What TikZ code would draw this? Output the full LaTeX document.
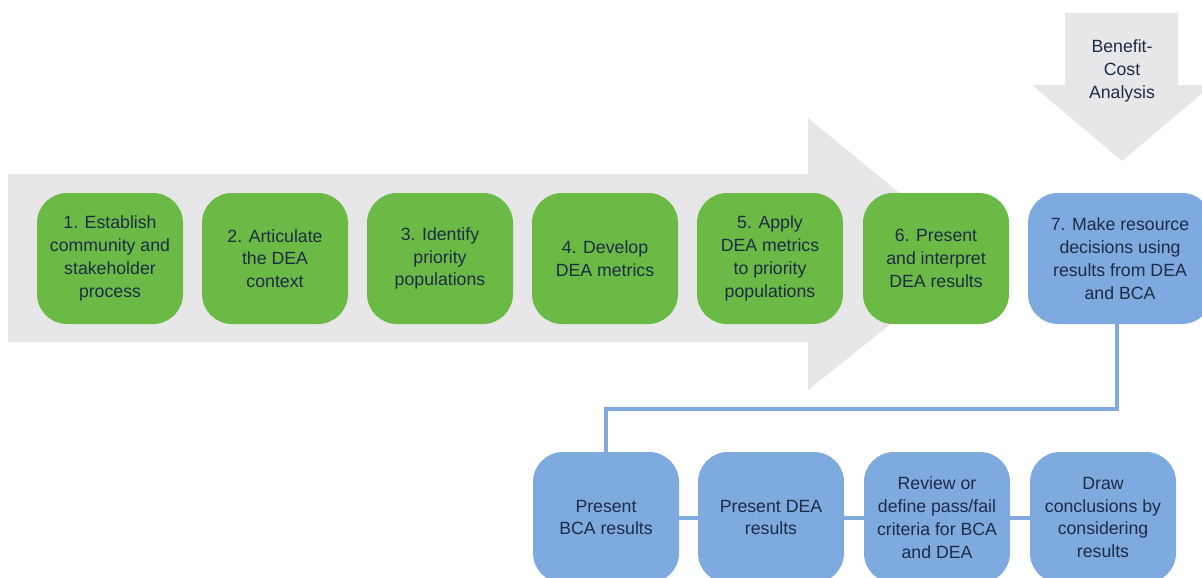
\documentclass[tikz,border=0pt]{standalone}
\usepackage{fontspec}
\setmainfont{Liberation Sans}
\definecolor{stepgreen}{HTML}{6BBA45}
\definecolor{stepblue}{HTML}{7EAADF}
\definecolor{flowgray}{HTML}{E7E7E9}
\definecolor{inktext}{HTML}{1E2B45}
\tikzset{
  stepbox/.style={rectangle, rounded corners=30pt, minimum width=146pt,
    minimum height=131pt, inner sep=0pt, align=center, text=inktext,
    font=\fontsize{17.7pt}{22.8pt}\selectfont},
  greenbox/.style={stepbox, fill=stepgreen},
  bluebox/.style={stepbox, fill=stepblue},
  link/.style={draw=stepblue, line width=4pt},
  arrowfill/.style={fill=flowgray, draw=none}
}
\begin{document}
\begin{tikzpicture}[x=1pt,y=-1pt]
\useasboundingbox (0,0) rectangle (1202,578);
\clip (0,0) rectangle (1202,578);
\fill[white] (0,0) rectangle (1202,578);

% main process arrow behind the first six steps
\path[arrowfill] (8,174) -- (808,174) -- (808,118) -- (976,256)
  -- (808,390) -- (808,342) -- (8,342) -- cycle;

% incoming benefit-cost arrow
\path[arrowfill] (1065,13) -- (1178,13) -- (1178,85) -- (1212,85)
  -- (1122,161) -- (1032,85) -- (1065,85) -- cycle;
\node[text=inktext, align=center, font=\fontsize{17.7pt}{22.8pt}\selectfont]
  (bca) at (1122,71) {Benefit-\\Cost\\Analysis};

% steps 1-6
\node[greenbox] (s1) at (110,258.5) {1. Establish\\community and\\stakeholder\\process};
\node[greenbox] (s2) at (275,258.5) {2. Articulate\\the DEA\\context};
\node[greenbox] (s3) at (440,258.5) {3. Identify\\priority\\populations};
\node[greenbox] (s4) at (605,258.5) {4. Develop\\DEA metrics};
\node[greenbox] (s5) at (770,258.5) {5. Apply\\DEA metrics\\to priority\\populations};
\node[greenbox] (s6) at (936,258.5) {6. Present\\and interpret\\DEA results};

% step 7
\node[bluebox, minimum width=184pt] (s7) at (1120,258.5)
  {7. Make resource\\decisions using\\results from DEA\\and BCA};

% decision sub-steps
\node[bluebox] (p1) at (606,517.5) {Present\\BCA results};
\node[bluebox] (p2) at (771,517.5) {Present DEA\\results};
\node[bluebox] (p3) at (937,517.5) {Review or\\define pass/fail\\criteria for BCA\\and DEA};
\node[bluebox] (p4) at (1103,517.5) {Draw\\conclusions by\\considering\\results};

% connectors
\draw[link] ([xshift=-3pt]s7.south) -- ([xshift=-3pt]s7.south |- 0,409) -| (p1.north);
\draw[link] (p1.east) -- (p2.west);
\draw[link] (p2.east) -- (p3.west);
\draw[link] (p3.east) -- (p4.west);
\end{tikzpicture}
\end{document}
